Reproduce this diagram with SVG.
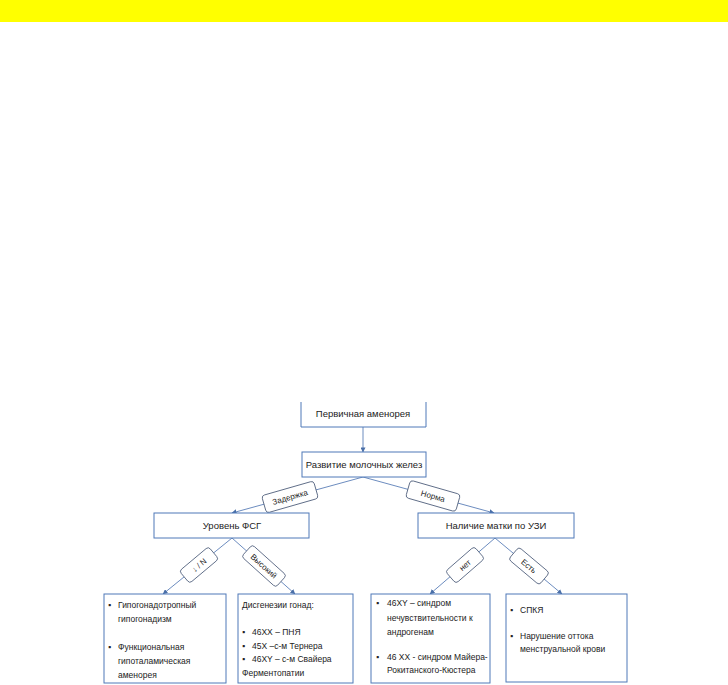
<svg xmlns="http://www.w3.org/2000/svg" width="728" height="685" viewBox="0 0 728 685">
<defs>
<marker id="ah" viewBox="0 0 6 6" refX="5.5" refY="3" markerWidth="5" markerHeight="5" orient="auto" markerUnits="userSpaceOnUse">
<path d="M0,0 L6,3 L0,6 z" fill="#4a6fa8"/>
</marker>
</defs>
<style>
.box{fill:#fff;stroke:#4f78b8;stroke-width:1}
.ln{stroke:#5b7fb8;stroke-width:0.9;fill:none;marker-end:url(#ah)}
.lb{fill:#fff;stroke:#4a5a78;stroke-width:0.8}
text{font-family:"Liberation Sans Narrow","Liberation Sans",Arial,sans-serif;fill:#222}
.t{font-size:9.5px;text-anchor:middle}
.s{font-size:8.5px}
.l{font-size:8px;text-anchor:middle}
</style>
<rect x="0" y="0" width="728" height="22" fill="#ffff00"/>
<g id="connectors">
<line class="ln" x1="363" y1="427" x2="363" y2="452"/>
<line class="ln" x1="363" y1="477" x2="232" y2="513"/>
<line class="ln" x1="363" y1="477" x2="494" y2="513"/>
<line class="ln" x1="232" y1="538" x2="163" y2="594"/>
<line class="ln" x1="232" y1="538" x2="295" y2="594"/>
<line class="ln" x1="495" y1="538" x2="430" y2="594"/>
<line class="ln" x1="495" y1="538" x2="562" y2="594"/>
<g transform="translate(290,497) rotate(-16)"><rect class="lb" x="-27" y="-9" width="54" height="18" rx="3"/><text class="l" y="3">Задержка</text></g>
<g transform="translate(433,496) rotate(16)"><rect class="lb" x="-26" y="-9" width="52" height="18" rx="3"/><text class="l" y="3">Норма</text></g>
<g transform="translate(199,565) rotate(-40)"><rect class="lb" x="-19" y="-8" width="38" height="16" rx="3"/><text class="l" y="3">↓ / N</text></g>
<g transform="translate(264,566) rotate(42)"><rect class="lb" x="-23" y="-8" width="46" height="16" rx="3"/><text class="l" y="3">Высокий</text></g>
<g transform="translate(465,565) rotate(-41)"><rect class="lb" x="-19" y="-8" width="38" height="16" rx="3"/><text class="l" y="3">нет</text></g>
<g transform="translate(529,566) rotate(40)"><rect class="lb" x="-20" y="-8" width="40" height="16" rx="3"/><text class="l" y="3">Есть</text></g>
</g>
<g id="n1"><path class="box" d="M301,402 V427 H426 V402"/><text class="t" x="363" y="417">Первичная аменорея</text></g>
<g id="n2"><rect class="box" x="302" y="452" width="124" height="25"/><text class="t" x="364" y="468">Развитие молочных желез</text></g>
<g id="n3"><rect class="box" x="154" y="513" width="155" height="25"/><text class="t" x="232" y="529">Уровень ФСГ</text></g>
<g id="n4"><rect class="box" x="418" y="513" width="156" height="25"/><text class="t" x="496" y="529">Наличие матки по УЗИ</text></g>
<g id="n5"><rect class="box" x="104" y="594" width="122" height="89"/>
<text class="s" x="108" y="608">▪</text><text class="s" x="118" y="608">Гипогонадотропный</text>
<text class="s" x="118" y="622">гипогонадизм</text>
<text class="s" x="108" y="650">▪</text><text class="s" x="118" y="650">Функциональная</text>
<text class="s" x="118" y="664">гипоталамическая</text>
<text class="s" x="118" y="678">аменорея</text></g>
<g id="n6"><rect class="box" x="238" y="594" width="115" height="89"/>
<text class="s" x="242" y="608">Дисгенезии гонад:</text>
<text class="s" x="242" y="635">▪</text><text class="s" x="252" y="635">46ХХ – ПНЯ</text>
<text class="s" x="242" y="649">▪</text><text class="s" x="252" y="649">45Х –с-м Тернера</text>
<text class="s" x="242" y="662">▪</text><text class="s" x="252" y="662">46ХY – с-м Свайера</text>
<text class="s" x="242" y="676">Ферментопатии</text></g>
<g id="n7"><rect class="box" x="371" y="594" width="119" height="89"/>
<text class="s" x="376" y="606">▪</text><text class="s" x="387" y="606">46ХY – синдром</text>
<text class="s" x="387" y="621">нечувствительности к</text>
<text class="s" x="387" y="635">андрогенам</text>
<text class="s" x="376" y="660">▪</text><text class="s" x="387" y="660">46 ХХ - синдром Майера-</text>
<text class="s" x="387" y="673">Рокитанского-Кюстера</text></g>
<g id="n8"><rect class="box" x="506" y="594" width="121" height="88"/>
<text class="s" x="510" y="613">▪</text><text class="s" x="520" y="613">СПКЯ</text>
<text class="s" x="510" y="639">▪</text><text class="s" x="520" y="639">Нарушение оттока</text>
<text class="s" x="520" y="652">менструальной крови</text></g>
</svg>
